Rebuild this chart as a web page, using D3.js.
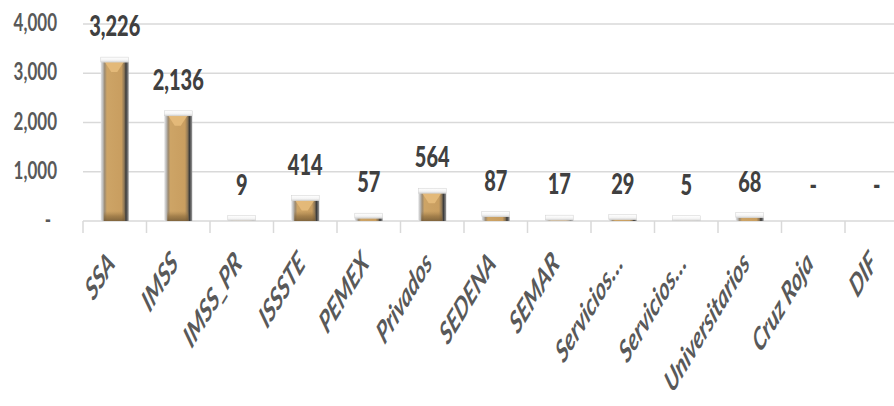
<!DOCTYPE html>
<html>
<head>
<meta charset="utf-8">
<script src="https://cdn.jsdelivr.net/npm/d3@7"></script>
<style>
  body { margin: 0; background: #fff; }
  svg { display: block; }
</style>
</head>
<body>
<div id="chart"></div>
<script>
const categories = ['SSA', 'IMSS', 'IMSS_PR', 'ISSSTE', 'PEMEX', 'Privados', 'SEDENA', 'SEMAR',
  'Servicios…', 'Servicios…', 'Universitarios', 'Cruz Roja', 'DIF']
const values = [3226, 2136, 9, 414, 57, 564, 87, 17, 29, 5, 68, 0, 0]
const yTicks = [0, 1000, 2000, 3000, 4000]

const width = 894
const height = 406
const font = "Lato, 'Open Sans', sans-serif"

const svg = d3.select('#chart')
  .append('svg')
  .attr('width', width)
  .attr('height', height)

const step = 63.5
const x = d3.scaleBand()
  .domain(d3.range(categories.length))
  .range([83, 83 + step * categories.length])
  .paddingInner(0.56)
  .paddingOuter(0.28)

const y = d3.scaleLinear()
  .domain([0, 4000])
  .range([221, 24])

// gradients for the bevelled bars
const defs = svg.append('defs')
const body = defs.append('linearGradient').attr('id', 'barBody')
  .attr('x1', 0).attr('x2', 1).attr('y1', 0).attr('y2', 0)
;[[0, '#e6e6e6'], [0.07, '#bdbdbd'], [0.14, '#9c8a70'], [0.22, '#cda466'], [0.74, '#c99e60'],
  [0.84, '#8c7656'], [0.9, '#3a3a3a'], [1, '#9a9a9a']].forEach(s => {
  body.append('stop').attr('offset', s[0]).attr('stop-color', s[1])
})
const cap = defs.append('linearGradient').attr('id', 'barCap')
  .attr('x1', 0).attr('x2', 0).attr('y1', 0).attr('y2', 1)
;[[0, '#ffffff'], [0.6, '#f4f4f4'], [1, '#d6d6d6']].forEach(s => {
  cap.append('stop').attr('offset', s[0]).attr('stop-color', s[1])
})
const base = defs.append('linearGradient').attr('id', 'barBase')
  .attr('x1', 0).attr('x2', 0).attr('y1', 0).attr('y2', 1)
;[[0, '#9c7a48', 0], [0.5, '#8a6a3c', 0.6], [1, '#6e5634', 0.8]].forEach(s => {
  base.append('stop').attr('offset', s[0]).attr('stop-color', s[1]).attr('stop-opacity', s[2])
})

// gridlines
svg.append('g')
  .selectAll('line')
  .data(yTicks)
  .join('line')
  .attr('x1', 83)
  .attr('x2', width)
  .attr('y1', d => y(d))
  .attr('y2', d => y(d))
  .attr('stroke', '#d9d9d9')
  .attr('stroke-width', 1.5)

// category tick marks
svg.append('g')
  .selectAll('line')
  .data(d3.range(categories.length))
  .join('line')
  .attr('x1', i => x(i) - x.step() * x.paddingInner() / 2)
  .attr('x2', i => x(i) - x.step() * x.paddingInner() / 2)
  .attr('y1', y(0))
  .attr('y2', y(0) + 12)
  .attr('stroke', '#d9d9d9')
  .attr('stroke-width', 1.5)

// y labels
svg.append('g')
  .selectAll('text')
  .data(yTicks)
  .join('text')
  .attr('transform', d => `translate(${d === 0 ? 51 : 57},${y(d) + 7}) scale(1,1.45)`)
  .attr('text-anchor', 'end')
  .attr('font-family', font)
  .attr('font-weight', 'bold')
  .attr('font-size', 17)
  .attr('fill', '#595959')
  .text(d => d === 0 ? '-' : d3.format(',')(d))

// bars
const bars = svg.append('g')
  .selectAll('g')
  .data(values.map((v, i) => ({ i, v })).filter(d => d.v > 0))
  .join('g')

bars.append('rect')
  .attr('x', d => x(d.i))
  .attr('y', d => y(d.v))
  .attr('width', x.bandwidth())
  .attr('height', d => y(0) - y(d.v))
  .attr('fill', 'url(#barBody)')

// darker base
bars.filter(d => y(0) - y(d.v) > 12)
  .append('rect')
  .attr('x', d => x(d.i) + 3)
  .attr('y', y(0) - 10)
  .attr('width', x.bandwidth() - 7)
  .attr('height', 10)
  .attr('fill', 'url(#barBase)')

// lighter bevel under the cap
bars.filter(d => y(0) - y(d.v) > 8)
  .append('path')
  .attr('d', d => {
    const x0 = x(d.i) + 4
    const x1 = x(d.i) + x.bandwidth() - 5
    const t = y(d.v)
    const h = Math.min(10, (y(0) - y(d.v)) / 2)
    return `M${x0},${t}L${x1},${t}L${(x0 + x1) / 2 + 3},${t + h}L${(x0 + x1) / 2 - 3},${t + h}Z`
  })
  .attr('fill', '#e8bd7c')
  .attr('opacity', 0.85)

bars.append('rect')
  .attr('x', d => x(d.i))
  .attr('y', d => y(d.v) - 5)
  .attr('width', x.bandwidth())
  .attr('height', 5)
  .attr('fill', 'url(#barCap)')
  .attr('stroke', '#cfcfcf')
  .attr('stroke-width', 0.5)

// value labels
svg.append('g')
  .selectAll('text')
  .data(values)
  .join('text')
  .attr('transform', (d, i) => `translate(${x(i) + x.bandwidth() / 2},${y(d) - 26}) scale(1,1.4)`)
  .attr('text-anchor', 'middle')
  .attr('font-family', font)
  .attr('font-weight', 900)
  .attr('font-size', 20)
  .attr('fill', '#404040')
  .text(d => d === 0 ? '-' : d3.format(',')(d))

// category labels
svg.append('g')
  .selectAll('text')
  .data(categories)
  .join('text')
  .attr('transform', (d, i) => `translate(${x(i) + x.bandwidth() / 2 + 1},${265}) scale(1,1.65) rotate(-45)`)
  .attr('text-anchor', 'end')
  .attr('font-family', font)
  .attr('font-weight', 'bold')
  .attr('font-style', 'italic')
  .attr('font-size', 19)
  .attr('fill', '#595959')
  .text(d => d)
</script>
</body>
</html>
